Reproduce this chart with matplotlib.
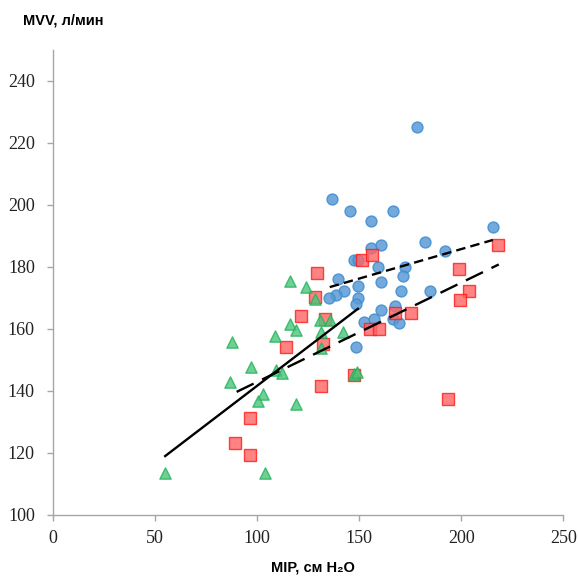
import matplotlib
matplotlib.use('Agg')
import matplotlib.pyplot as plt

# MIP (cm H2O) vs MVV (l/min), three groups
blue_x = [136.7, 145.3, 155.8, 166.5, 178.5, 215.5, 155.8, 160.5, 182.5, 192.3,
          147.3, 149.6, 159.4, 172.7, 171.4, 139.5, 160.5, 149.6, 142.6, 170.4,
          184.5, 138.5, 135.2, 149.6, 148.6, 160.8, 167.8, 152.3, 157.2, 166.5,
          169.5, 148.6]
blue_y = [201.9, 197.9, 194.9, 197.9, 225.2, 193.0, 186.0, 187.1, 188.2, 185.3,
          182.1, 182.1, 180.1, 180.1, 177.0, 176.1, 175.1, 173.9, 172.2, 172.1,
          172.1, 170.8, 170.1, 170.1, 168.1, 166.2, 167.3, 162.2, 163.3, 163.3,
          161.9, 154.2]

red_x = [151.6, 156.5, 217.9, 198.8, 203.7, 199.2, 155.1, 159.7, 175.5, 147.3,
         193.6, 129.5, 128.2, 121.4, 133.5, 114.4, 132.3, 131.2, 96.4, 89.4,
         96.4, 167.4]
red_y = [182.3, 184.0, 187.1, 179.2, 172.2, 169.4, 160.1, 160.1, 165.1, 145.1,
         137.3, 178.1, 170.3, 164.3, 163.1, 154.2, 155.3, 141.6, 131.3, 123.3,
         119.3, 165.1]

green_x = [87.7, 108.7, 96.9, 86.6, 102.9, 100.5, 119.3, 54.8, 103.8, 116.0,
           123.8, 128.2, 116.0, 118.9, 131.0, 135.6, 131.5, 142.1, 131.5, 109.5,
           112.4, 147.5, 149.1]
green_y = [155.8, 157.7, 147.7, 142.9, 139.0, 136.8, 135.9, 113.6, 113.6, 175.6,
           173.5, 169.7, 161.5, 159.8, 162.8, 162.8, 159.0, 159.0, 153.7, 146.9,
           145.8, 145.4, 146.1]

# trend line end points
green_line_x = [55, 149.4]
green_line_y = [119.0, 166.5]
red_line_x = [90, 218.4]
red_line_y = [139.7, 180.8]
blue_line_x = [135.6, 215.5]
blue_line_y = [173.5, 188.7]

xticks = [0, 50, 100, 150, 200, 250]
yticks = [100, 120, 140, 160, 180, 200, 220, 240]

fig = plt.figure(figsize=(5.78, 5.77), dpi=100)
ax = fig.add_axes([0.0915, 0.1075, 0.883, 0.806])

ax.scatter(blue_x, blue_y, marker='o', s=62, facecolor='#5b9bd5', edgecolor='#3f8ccf',
           linewidth=1, alpha=0.85, zorder=2)
ax.scatter(red_x, red_y, marker='s', s=64, facecolor='#ff6464', edgecolor='#ff1a1a',
           linewidth=1, alpha=0.8, zorder=3)
ax.scatter(green_x, green_y, marker='^', s=66, facecolor='#4cc47c', edgecolor='#22b35a',
           linewidth=1, alpha=0.8, zorder=4)

ax.plot(green_line_x, green_line_y, color='black', lw=1.7, zorder=5)
ax.plot(red_line_x, red_line_y, color='black', lw=1.7, linestyle=(0, (8, 4)), zorder=5)
ax.plot(blue_line_x, blue_line_y, color='black', lw=1.7, linestyle=(0, (4, 2.2)), zorder=5)

ax.set_xlim(0, 250)
ax.set_ylim(100, 250)
ax.set_xticks(xticks)
ax.set_yticks(yticks)

for side in ['top', 'right']:
    ax.spines[side].set_visible(False)
for side in ['left', 'bottom']:
    ax.spines[side].set_color('#a6a6a6')
    ax.spines[side].set_linewidth(1)

ax.tick_params(direction='out', length=4, width=1, color='#a6a6a6', labelsize=13)
ax.tick_params(axis='y', pad=9)
ax.tick_params(axis='x', pad=7)
for lab in ax.get_xticklabels() + ax.get_yticklabels():
    lab.set_fontfamily('Liberation Serif')
    lab.set_color('#222222')

fig.text(23 / 578, 1 - 20.7 / 577, 'MVV, л/мин', ha='left', va='center',
         fontsize=10.5, fontweight='bold', family=['Liberation Sans', 'DejaVu Sans'])
fig.text(313 / 578, 1 - 567 / 577, 'MIP, см H₂O', ha='center', va='center',
         fontsize=10.5, fontweight='bold', family=['Liberation Sans', 'DejaVu Sans'])

fig.savefig('out.png', dpi=100)
